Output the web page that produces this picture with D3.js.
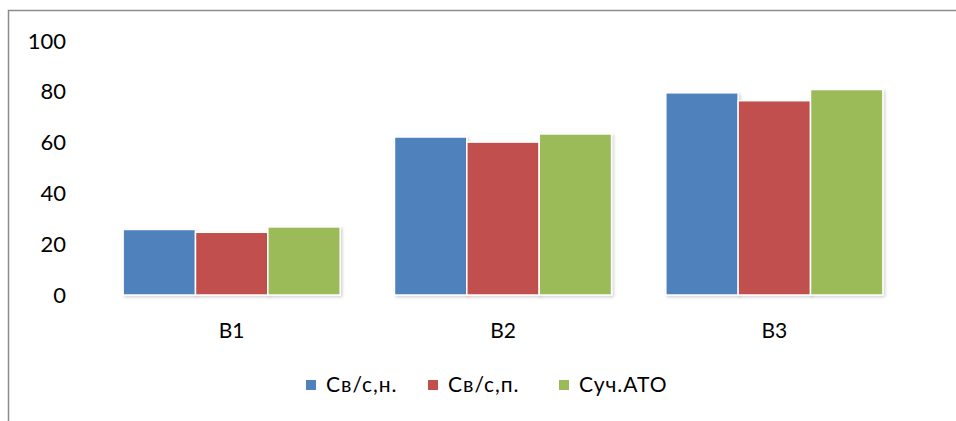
<!DOCTYPE html>
<html>
<head>
<meta charset="utf-8">
<script src="https://cdn.jsdelivr.net/npm/d3@7"></script>
<style>
  html, body { margin: 0; padding: 0; background: #fff; }
  svg { display: block; }
  text { font-family: Lato, "Open Sans", sans-serif; fill: #000; }
</style>
</head>
<body>
<svg id="chart" width="956" height="421"></svg>
<script>
// Categories, series and tick labels
const categories = ["B1", "B2", "B3"];
const seriesNames = ["Св/с,н.", "Св/с,п.", "Суч.АТО"];
const seriesColors = ["#4F81BD", "#C0504D", "#9BBB59"];
const svNValues = [25.8, 62.2, 79.6];
const svPValues = [24.7, 60.2, 76.5];
const suchAtoValues = [26.8, 63.4, 80.9];
const yTicks = [0, 20, 40, 60, 80, 100];

const seriesValues = [svNValues, svPValues, suchAtoValues];

const svg = d3.select("#chart");
const W = 956, H = 421;

// Drop shadow used on bars and axis lines
const defs = svg.append("defs");
const f = defs.append("filter").attr("id", "shadow")
  .attr("x", "-10%").attr("y", "-10%").attr("width", "130%").attr("height", "130%");
f.append("feDropShadow").attr("dx", 1.5).attr("dy", 1.5).attr("stdDeviation", 1.5)
  .attr("flood-color", "#000").attr("flood-opacity", 0.18);

// Outer frame (runs past right and bottom edges)
svg.append("rect")
  .attr("x", 8.5).attr("y", 10.5)
  .attr("width", W + 20).attr("height", H + 20)
  .attr("fill", "none").attr("stroke", "#8c8c8c").attr("stroke-width", 1.5);

const plotLeft = 91, plotRight = 937;
const y = d3.scaleLinear().domain([0, 100]).range([295, 41]);

const x0 = d3.scaleBand().domain(categories).range([96, 910]).paddingInner(0.2).paddingOuter(0.1);
const x1 = d3.scaleBand().domain(d3.range(seriesNames.length)).range([0, x0.bandwidth()]).padding(0);

// Bars
const groups = svg.append("g").selectAll("g")
  .data(categories)
  .join("g")
  .attr("transform", d => `translate(${x0(d)},0)`);

groups.selectAll("rect")
  .data((c, i) => seriesValues.map((vals, s) => ({ s, v: vals[i] })))
  .join("rect")
  .attr("x", d => x1(d.s))
  .attr("y", d => y(d.v))
  .attr("width", x1.bandwidth())
  .attr("height", d => y(0) - y(d.v))
  .attr("fill", d => seriesColors[d.s])
  .attr("stroke", "#fff")
  .attr("stroke-width", 1.5)
  .attr("filter", "url(#shadow)");

// Y axis
const yAxis = svg.append("g")
  .attr("transform", `translate(${plotLeft},0)`)
  .call(d3.axisLeft(y).tickValues(yTicks).tickSize(0).tickPadding(25).tickFormat(d3.format("d")));
yAxis.select(".domain").remove();
yAxis.selectAll("text").attr("font-size", 22).attr("font-family", "Lato, 'Open Sans', sans-serif").attr("fill", "#000");

svg.append("line")
  .attr("x1", plotLeft).attr("x2", plotLeft)
  .attr("y1", 40).attr("y2", 296)
  .attr("stroke", "#868686").attr("stroke-width", 2)
  .attr("filter", "url(#shadow)");

// X axis
const xAxis = svg.append("g")
  .attr("transform", `translate(0,${y(0)})`)
  .call(d3.axisBottom(x0).tickSize(0).tickPadding(28));
xAxis.select(".domain").remove();
xAxis.selectAll("text").attr("font-size", 21).attr("font-family", "Lato, 'Open Sans', sans-serif").attr("fill", "#000");

svg.append("line")
  .attr("x1", plotLeft).attr("x2", plotRight)
  .attr("y1", y(0) + 1).attr("y2", y(0) + 1)
  .attr("stroke", "#868686").attr("stroke-width", 2)
  .attr("filter", "url(#shadow)");

// Legend
const legendX = [306, 428, 559];
const legend = svg.append("g").selectAll("g")
  .data(seriesNames)
  .join("g")
  .attr("transform", (d, i) => `translate(${legendX[i]},380)`);
legend.append("rect")
  .attr("width", 10).attr("height", 10)
  .attr("fill", (d, i) => seriesColors[i]);
legend.append("text")
  .attr("x", 20).attr("y", 5)
  .attr("dy", "0.35em")
  .attr("font-size", 21)
  .attr("letter-spacing", 1)
  .text(d => d);
</script>
</body>
</html>
